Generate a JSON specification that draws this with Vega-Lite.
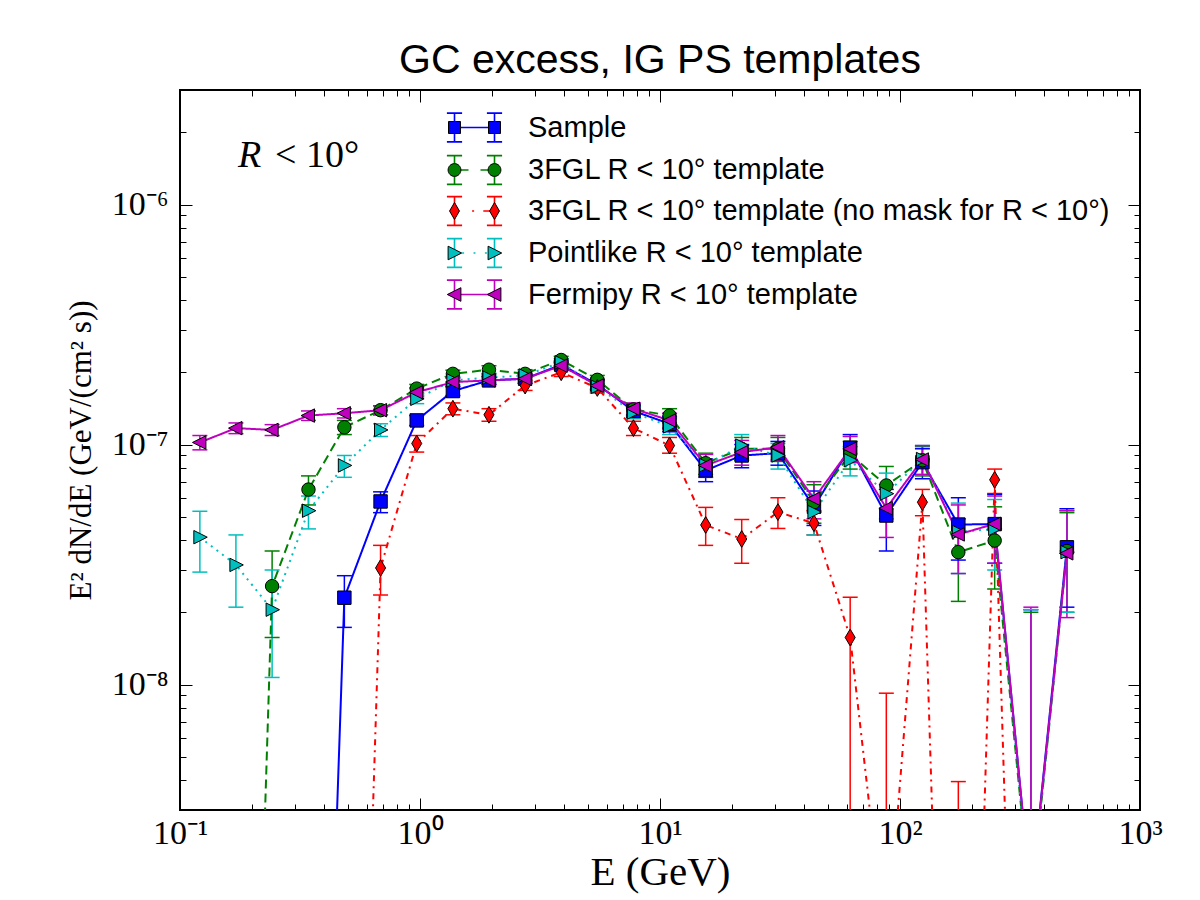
{
  "$schema": "https://vega.github.io/schema/vega-lite/v6.json",
  "width": 960,
  "height": 720,
  "autosize": {"type": "none"},
  "padding": {"left": 180, "top": 90, "right": 60, "bottom": 90},
  "background": "white",
  "title": {"text": "GC excess, IG PS templates", "font": "Liberation Sans", "fontSize": 41, "fontWeight": "normal", "color": "black", "frame": "group", "anchor": "middle", "offset": 8},
  "config": {
    "view": {"stroke": "black", "strokeWidth": 2},
    "axis": {"grid": false, "domain": false, "tickColor": "black", "tickWidth": 1, "labelColor": "black", "titleColor": "black", "labelFlush": false, "labelOverlap": false, "labelBound": false},
    "legend": {"orient": "none", "legendX": 280, "title": null, "padding": 0, "labelFont": "Liberation Sans", "labelFontSize": 29, "labelColor": "black", "labelLimit": 900, "symbolSize": 256, "labelOffset": 39, "symbolOpacity": 1}
  },
  "data": {"values": [
    {"s": "Sample", "E": 0.343, "y": 1e-12, "lo": null, "hi": null},
    {"s": "Sample", "E": 0.484, "y": 2.30e-8, "lo": 1.73e-8, "hi": 2.84e-8},
    {"s": "Sample", "E": 0.685, "y": 5.79e-8, "lo": 5.2e-8, "hi": 6.35e-8},
    {"s": "Sample", "E": 0.969, "y": 1.26e-7, "lo": 1.2e-7, "hi": 1.32e-7},
    {"s": "Sample", "E": 1.371, "y": 1.67e-7, "lo": 1.6e-7, "hi": 1.74e-7},
    {"s": "Sample", "E": 1.938, "y": 1.85e-7, "lo": 1.78e-7, "hi": 1.92e-7},
    {"s": "Sample", "E": 2.741, "y": 1.88e-7, "lo": 1.8e-7, "hi": 1.96e-7},
    {"s": "Sample", "E": 3.875, "y": 2.15e-7, "lo": 2.07e-7, "hi": 2.23e-7},
    {"s": "Sample", "E": 5.48, "y": 1.78e-7, "lo": 1.70e-7, "hi": 1.86e-7},
    {"s": "Sample", "E": 7.75, "y": 1.38e-7, "lo": 1.3e-7, "hi": 1.46e-7},
    {"s": "Sample", "E": 10.96, "y": 1.22e-7, "lo": 1.13e-7, "hi": 1.31e-7},
    {"s": "Sample", "E": 15.5, "y": 7.8e-8, "lo": 7.0e-8, "hi": 8.7e-8},
    {"s": "Sample", "E": 21.9, "y": 9.0e-8, "lo": 8.0e-8, "hi": 1.0e-7},
    {"s": "Sample", "E": 31.0, "y": 9.2e-8, "lo": 8.2e-8, "hi": 1.03e-7},
    {"s": "Sample", "E": 43.8, "y": 5.5e-8, "lo": 4.6e-8, "hi": 6.4e-8},
    {"s": "Sample", "E": 62.0, "y": 9.7e-8, "lo": 8.6e-8, "hi": 1.1e-7},
    {"s": "Sample", "E": 87.7, "y": 5.06e-8, "lo": 3.6e-8, "hi": 6.5e-8},
    {"s": "Sample", "E": 124, "y": 8.44e-8, "lo": 7.2e-8, "hi": 9.6e-8},
    {"s": "Sample", "E": 175, "y": 4.64e-8, "lo": 3.3e-8, "hi": 6.0e-8},
    {"s": "Sample", "E": 248, "y": 4.66e-8, "lo": 3.2e-8, "hi": 6.2e-8},
    {"s": "Sample", "E": 351, "y": 1.3e-9, "lo": 1e-12, "hi": 2.05e-8},
    {"s": "Sample", "E": 496, "y": 3.73e-8, "lo": 2.1e-8, "hi": 5.4e-8},

    {"s": "3FGL R < 10° template", "E": 0.171, "y": 4e-13, "lo": null, "hi": null},
    {"s": "3FGL R < 10° template", "E": 0.242, "y": 2.57e-8, "lo": 1.57e-8, "hi": 3.6e-8},
    {"s": "3FGL R < 10° template", "E": 0.343, "y": 6.49e-8, "lo": 5.6e-8, "hi": 7.4e-8},
    {"s": "3FGL R < 10° template", "E": 0.484, "y": 1.18e-7, "lo": 1.1e-7, "hi": 1.26e-7},
    {"s": "3FGL R < 10° template", "E": 0.685, "y": 1.39e-7, "lo": 1.33e-7, "hi": 1.45e-7},
    {"s": "3FGL R < 10° template", "E": 0.969, "y": 1.71e-7, "lo": 1.64e-7, "hi": 1.78e-7},
    {"s": "3FGL R < 10° template", "E": 1.371, "y": 1.97e-7, "lo": 1.9e-7, "hi": 2.04e-7},
    {"s": "3FGL R < 10° template", "E": 1.938, "y": 2.05e-7, "lo": 1.97e-7, "hi": 2.13e-7},
    {"s": "3FGL R < 10° template", "E": 2.741, "y": 1.97e-7, "lo": 1.9e-7, "hi": 2.05e-7},
    {"s": "3FGL R < 10° template", "E": 3.875, "y": 2.25e-7, "lo": 2.17e-7, "hi": 2.33e-7},
    {"s": "3FGL R < 10° template", "E": 5.48, "y": 1.86e-7, "lo": 1.78e-7, "hi": 1.94e-7},
    {"s": "3FGL R < 10° template", "E": 7.75, "y": 1.40e-7, "lo": 1.32e-7, "hi": 1.48e-7},
    {"s": "3FGL R < 10° template", "E": 10.96, "y": 1.32e-7, "lo": 1.23e-7, "hi": 1.41e-7},
    {"s": "3FGL R < 10° template", "E": 15.5, "y": 8.36e-8, "lo": 7.5e-8, "hi": 9.2e-8},
    {"s": "3FGL R < 10° template", "E": 21.9, "y": 9.6e-8, "lo": 8.6e-8, "hi": 1.07e-7},
    {"s": "3FGL R < 10° template", "E": 31.0, "y": 9.6e-8, "lo": 8.5e-8, "hi": 1.07e-7},
    {"s": "3FGL R < 10° template", "E": 43.8, "y": 5.75e-8, "lo": 4.7e-8, "hi": 6.8e-8},
    {"s": "3FGL R < 10° template", "E": 62.0, "y": 9.1e-8, "lo": 7.9e-8, "hi": 1.03e-7},
    {"s": "3FGL R < 10° template", "E": 87.7, "y": 6.75e-8, "lo": 5.4e-8, "hi": 8.1e-8},
    {"s": "3FGL R < 10° template", "E": 124, "y": 8.6e-8, "lo": 7.4e-8, "hi": 9.8e-8},
    {"s": "3FGL R < 10° template", "E": 175, "y": 3.56e-8, "lo": 2.22e-8, "hi": 4.9e-8},
    {"s": "3FGL R < 10° template", "E": 248, "y": 3.98e-8, "lo": 2.5e-8, "hi": 5.5e-8},
    {"s": "3FGL R < 10° template", "E": 351, "y": 1.2e-9, "lo": 1e-12, "hi": 2.0e-8},
    {"s": "3FGL R < 10° template", "E": 496, "y": 3.6e-8, "lo": 2.0e-8, "hi": 5.2e-8},

    {"s": "3FGL R < 10° template (no mask for R < 10°)", "E": 0.484, "y": 5e-13, "lo": null, "hi": null},
    {"s": "3FGL R < 10° template (no mask for R < 10°)", "E": 0.685, "y": 3.06e-8, "lo": 2.36e-8, "hi": 3.8e-8},
    {"s": "3FGL R < 10° template (no mask for R < 10°)", "E": 0.969, "y": 1.01e-7, "lo": 9.3e-8, "hi": 1.09e-7},
    {"s": "3FGL R < 10° template (no mask for R < 10°)", "E": 1.371, "y": 1.41e-7, "lo": 1.33e-7, "hi": 1.49e-7},
    {"s": "3FGL R < 10° template (no mask for R < 10°)", "E": 1.938, "y": 1.33e-7, "lo": 1.25e-7, "hi": 1.41e-7},
    {"s": "3FGL R < 10° template (no mask for R < 10°)", "E": 2.741, "y": 1.76e-7, "lo": 1.68e-7, "hi": 1.84e-7},
    {"s": "3FGL R < 10° template (no mask for R < 10°)", "E": 3.875, "y": 2.0e-7, "lo": 1.92e-7, "hi": 2.08e-7},
    {"s": "3FGL R < 10° template (no mask for R < 10°)", "E": 5.48, "y": 1.72e-7, "lo": 1.64e-7, "hi": 1.8e-7},
    {"s": "3FGL R < 10° template (no mask for R < 10°)", "E": 7.75, "y": 1.17e-7, "lo": 1.09e-7, "hi": 1.25e-7},
    {"s": "3FGL R < 10° template (no mask for R < 10°)", "E": 10.96, "y": 9.9e-8, "lo": 9.2e-8, "hi": 1.07e-7},
    {"s": "3FGL R < 10° template (no mask for R < 10°)", "E": 15.5, "y": 4.62e-8, "lo": 3.8e-8, "hi": 5.47e-8},
    {"s": "3FGL R < 10° template (no mask for R < 10°)", "E": 21.9, "y": 4.04e-8, "lo": 3.2e-8, "hi": 4.87e-8},
    {"s": "3FGL R < 10° template (no mask for R < 10°)", "E": 31.0, "y": 5.23e-8, "lo": 4.47e-8, "hi": 6.0e-8},
    {"s": "3FGL R < 10° template (no mask for R < 10°)", "E": 43.8, "y": 4.7e-8, "lo": 4.2e-8, "hi": 5.3e-8},
    {"s": "3FGL R < 10° template (no mask for R < 10°)", "E": 62.0, "y": 1.57e-8, "lo": 1e-12, "hi": 2.31e-8},
    {"s": "3FGL R < 10° template (no mask for R < 10°)", "E": 87.7, "y": 7.5e-10, "lo": 1e-12, "hi": 9.2e-9},
    {"s": "3FGL R < 10° template (no mask for R < 10°)", "E": 124, "y": 5.75e-8, "lo": 5.05e-8, "hi": 6.5e-8},
    {"s": "3FGL R < 10° template (no mask for R < 10°)", "E": 175, "y": 1e-12, "lo": 1e-12, "hi": 3.94e-9},
    {"s": "3FGL R < 10° template (no mask for R < 10°)", "E": 248, "y": 7.13e-8, "lo": 6.25e-8, "hi": 7.9e-8},
    {"s": "3FGL R < 10° template (no mask for R < 10°)", "E": 351, "y": 1e-12, "lo": null, "hi": null},

    {"s": "Pointlike R < 10° template", "E": 0.121, "y": 4.11e-8, "lo": 2.94e-8, "hi": 5.27e-8},
    {"s": "Pointlike R < 10° template", "E": 0.171, "y": 3.15e-8, "lo": 2.1e-8, "hi": 4.2e-8},
    {"s": "Pointlike R < 10° template", "E": 0.242, "y": 2.05e-8, "lo": 1.07e-8, "hi": 3.0e-8},
    {"s": "Pointlike R < 10° template", "E": 0.343, "y": 5.3e-8, "lo": 4.45e-8, "hi": 6.1e-8},
    {"s": "Pointlike R < 10° template", "E": 0.484, "y": 8.18e-8, "lo": 7.3e-8, "hi": 9.0e-8},
    {"s": "Pointlike R < 10° template", "E": 0.685, "y": 1.15e-7, "lo": 1.08e-7, "hi": 1.22e-7},
    {"s": "Pointlike R < 10° template", "E": 0.969, "y": 1.55e-7, "lo": 1.48e-7, "hi": 1.62e-7},
    {"s": "Pointlike R < 10° template", "E": 1.371, "y": 1.85e-7, "lo": 1.78e-7, "hi": 1.92e-7},
    {"s": "Pointlike R < 10° template", "E": 1.938, "y": 1.90e-7, "lo": 1.82e-7, "hi": 1.98e-7},
    {"s": "Pointlike R < 10° template", "E": 2.741, "y": 1.94e-7, "lo": 1.86e-7, "hi": 2.02e-7},
    {"s": "Pointlike R < 10° template", "E": 3.875, "y": 2.20e-7, "lo": 2.12e-7, "hi": 2.28e-7},
    {"s": "Pointlike R < 10° template", "E": 5.48, "y": 1.74e-7, "lo": 1.66e-7, "hi": 1.82e-7},
    {"s": "Pointlike R < 10° template", "E": 7.75, "y": 1.36e-7, "lo": 1.28e-7, "hi": 1.44e-7},
    {"s": "Pointlike R < 10° template", "E": 10.96, "y": 1.19e-7, "lo": 1.1e-7, "hi": 1.28e-7},
    {"s": "Pointlike R < 10° template", "E": 15.5, "y": 8.2e-8, "lo": 7.3e-8, "hi": 9.1e-8},
    {"s": "Pointlike R < 10° template", "E": 21.9, "y": 9.9e-8, "lo": 8.8e-8, "hi": 1.1e-7},
    {"s": "Pointlike R < 10° template", "E": 31.0, "y": 9.0e-8, "lo": 7.9e-8, "hi": 1.01e-7},
    {"s": "Pointlike R < 10° template", "E": 43.8, "y": 5.23e-8, "lo": 4.2e-8, "hi": 6.2e-8},
    {"s": "Pointlike R < 10° template", "E": 62.0, "y": 8.6e-8, "lo": 7.4e-8, "hi": 9.8e-8},
    {"s": "Pointlike R < 10° template", "E": 87.7, "y": 6.24e-8, "lo": 4.9e-8, "hi": 7.6e-8},
    {"s": "Pointlike R < 10° template", "E": 124, "y": 8.7e-8, "lo": 7.5e-8, "hi": 9.9e-8},
    {"s": "Pointlike R < 10° template", "E": 175, "y": 4.32e-8, "lo": 2.9e-8, "hi": 5.7e-8},
    {"s": "Pointlike R < 10° template", "E": 248, "y": 4.45e-8, "lo": 3.0e-8, "hi": 5.9e-8},
    {"s": "Pointlike R < 10° template", "E": 351, "y": 1.2e-9, "lo": 1e-12, "hi": 2.05e-8},
    {"s": "Pointlike R < 10° template", "E": 496, "y": 3.56e-8, "lo": 2.0e-8, "hi": 5.3e-8},

    {"s": "Fermipy R < 10° template", "E": 0.121, "y": 1.02e-7, "lo": 9.5e-8, "hi": 1.09e-7},
    {"s": "Fermipy R < 10° template", "E": 0.171, "y": 1.17e-7, "lo": 1.11e-7, "hi": 1.23e-7},
    {"s": "Fermipy R < 10° template", "E": 0.242, "y": 1.15e-7, "lo": 1.09e-7, "hi": 1.21e-7},
    {"s": "Fermipy R < 10° template", "E": 0.343, "y": 1.32e-7, "lo": 1.26e-7, "hi": 1.38e-7},
    {"s": "Fermipy R < 10° template", "E": 0.484, "y": 1.35e-7, "lo": 1.29e-7, "hi": 1.41e-7},
    {"s": "Fermipy R < 10° template", "E": 0.685, "y": 1.39e-7, "lo": 1.33e-7, "hi": 1.45e-7},
    {"s": "Fermipy R < 10° template", "E": 0.969, "y": 1.65e-7, "lo": 1.58e-7, "hi": 1.72e-7},
    {"s": "Fermipy R < 10° template", "E": 1.371, "y": 1.82e-7, "lo": 1.75e-7, "hi": 1.89e-7},
    {"s": "Fermipy R < 10° template", "E": 1.938, "y": 1.85e-7, "lo": 1.78e-7, "hi": 1.92e-7},
    {"s": "Fermipy R < 10° template", "E": 2.741, "y": 1.88e-7, "lo": 1.8e-7, "hi": 1.96e-7},
    {"s": "Fermipy R < 10° template", "E": 3.875, "y": 2.13e-7, "lo": 2.05e-7, "hi": 2.21e-7},
    {"s": "Fermipy R < 10° template", "E": 5.48, "y": 1.76e-7, "lo": 1.68e-7, "hi": 1.84e-7},
    {"s": "Fermipy R < 10° template", "E": 7.75, "y": 1.41e-7, "lo": 1.33e-7, "hi": 1.49e-7},
    {"s": "Fermipy R < 10° template", "E": 10.96, "y": 1.26e-7, "lo": 1.17e-7, "hi": 1.35e-7},
    {"s": "Fermipy R < 10° template", "E": 15.5, "y": 8.18e-8, "lo": 7.3e-8, "hi": 9.1e-8},
    {"s": "Fermipy R < 10° template", "E": 21.9, "y": 9.29e-8, "lo": 8.2e-8, "hi": 1.04e-7},
    {"s": "Fermipy R < 10° template", "E": 31.0, "y": 9.74e-8, "lo": 8.6e-8, "hi": 1.09e-7},
    {"s": "Fermipy R < 10° template", "E": 43.8, "y": 5.94e-8, "lo": 4.9e-8, "hi": 7.0e-8},
    {"s": "Fermipy R < 10° template", "E": 62.0, "y": 9.59e-8, "lo": 8.4e-8, "hi": 1.08e-7},
    {"s": "Fermipy R < 10° template", "E": 87.7, "y": 5.43e-8, "lo": 4.1e-8, "hi": 6.8e-8},
    {"s": "Fermipy R < 10° template", "E": 124, "y": 8.66e-8, "lo": 7.5e-8, "hi": 9.9e-8},
    {"s": "Fermipy R < 10° template", "E": 175, "y": 4.22e-8, "lo": 2.9e-8, "hi": 5.6e-8},
    {"s": "Fermipy R < 10° template", "E": 248, "y": 4.67e-8, "lo": 3.2e-8, "hi": 6.1e-8},
    {"s": "Fermipy R < 10° template", "E": 351, "y": 1.3e-9, "lo": 1e-12, "hi": 2.1e-8},
    {"s": "Fermipy R < 10° template", "E": 496, "y": 3.52e-8, "lo": 1.9e-8, "hi": 5.3e-8}
  ]},
  "resolve": {
    "axis": {"x": "independent", "y": "independent"},
    "scale": {"shape": "independent", "fill": "independent", "stroke": "independent"}
  },
  "layer": [
    {
      "transform": [{"filter": "datum.hi != null"}],
      "mark": {"type": "rule", "strokeWidth": 1.5, "clip": true},
      "encoding": {
        "x": {"field": "E", "type": "quantitative", "scale": {"type": "log", "domain": [0.1, 1000], "nice": false},
          "axis": {"orient": "bottom", "values": [0.1, 1, 10, 100, 1000], "ticks": false, "tickSize": 0, "labelPadding": 6,
            "labelExpr": "datum.value < 0.5 ? '10⁻¹' : datum.value < 5 ? '10⁰' : datum.value < 50 ? '10¹' : datum.value < 500 ? '10²' : '10³'",
            "labelFont": "Liberation Serif", "labelFontSize": 34, "title": "E (GeV)", "titleFont": "Liberation Serif", "titleFontSize": 41, "titleFontWeight": "normal", "titlePadding": 2}},
        "y": {"field": "lo", "type": "quantitative", "scale": {"type": "log", "domain": [3e-9, 3e-6], "nice": false},
          "axis": {"orient": "left", "values": [1e-8, 1e-7, 1e-6], "ticks": false, "tickSize": 0, "labelPadding": 12,
            "labelExpr": "datum.value < 5e-8 ? '10⁻⁸' : datum.value < 5e-7 ? '10⁻⁷' : '10⁻⁶'",
            "labelFont": "Liberation Serif", "labelFontSize": 34, "title": "E² dN/dE  (GeV/(cm² s))", "titleFont": "Liberation Serif", "titleFontSize": 31, "titleFontWeight": "normal", "titlePadding": 14}},
        "y2": {"field": "hi"},
        "stroke": {"field": "s", "type": "nominal",
          "sort": ["Sample", "3FGL R < 10° template", "3FGL R < 10° template (no mask for R < 10°)", "Pointlike R < 10° template", "Fermipy R < 10° template"],
          "scale": {"range": ["#0000ff", "#008000", "#ff0000", "#00bfbf", "#bf00bf"]},
          "legend": null}
      }
    },
    {
      "transform": [{"filter": "datum.hi != null"}],
      "mark": {"type": "point", "shape": "stroke", "size": 225, "strokeWidth": 1.5, "filled": false, "opacity": 1, "clip": true},
      "encoding": {
        "x": {"field": "E", "type": "quantitative", "axis": {"orient": "bottom", "values": [0.1, 1, 10, 100, 1000], "labels": false, "tickSize": -12, "title": null}},
        "y": {"field": "lo", "type": "quantitative", "axis": {"orient": "left", "values": [1e-8, 1e-7, 1e-6], "labels": false, "tickSize": -12, "title": null}},
        "stroke": {"field": "s", "type": "nominal", "sort": ["Sample", "3FGL R < 10° template", "3FGL R < 10° template (no mask for R < 10°)", "Pointlike R < 10° template", "Fermipy R < 10° template"],
          "scale": {"range": ["#0000ff", "#008000", "#ff0000", "#00bfbf", "#bf00bf"]}, "legend": null}
      }
    },
    {
      "transform": [{"filter": "datum.hi != null"}],
      "mark": {"type": "point", "shape": "stroke", "size": 225, "strokeWidth": 1.5, "filled": false, "opacity": 1, "clip": true},
      "encoding": {
        "x": {"field": "E", "type": "quantitative", "axis": {"orient": "bottom", "values": [0.2, 0.3, 0.4, 0.5, 0.6, 0.7, 0.8, 0.9, 2, 3, 4, 5, 6, 7, 8, 9, 20, 30, 40, 50, 60, 70, 80, 90, 200, 300, 400, 500, 600, 700, 800, 900], "labels": false, "tickSize": -6, "title": null}},
        "y": {"field": "hi", "type": "quantitative", "axis": {"orient": "left", "values": [3e-9, 4e-9, 5e-9, 6e-9, 7e-9, 8e-9, 9e-9, 2e-8, 3e-8, 4e-8, 5e-8, 6e-8, 7e-8, 8e-8, 9e-8, 2e-7, 3e-7, 4e-7, 5e-7, 6e-7, 7e-7, 8e-7, 9e-7, 2e-6], "labels": false, "tickSize": -6, "title": null}},
        "stroke": {"field": "s", "type": "nominal", "sort": ["Sample", "3FGL R < 10° template", "3FGL R < 10° template (no mask for R < 10°)", "Pointlike R < 10° template", "Fermipy R < 10° template"],
          "scale": {"range": ["#0000ff", "#008000", "#ff0000", "#00bfbf", "#bf00bf"]}, "legend": null}
      }
    },
    {
      "mark": {"type": "line", "strokeWidth": 2, "clip": true},
      "encoding": {
        "x": {"field": "E", "type": "quantitative", "axis": {"orient": "top", "values": [0.1, 1, 10, 100, 1000], "labels": false, "tickSize": -12, "title": null}},
        "y": {"field": "y", "type": "quantitative", "axis": {"orient": "right", "values": [1e-8, 1e-7, 1e-6], "labels": false, "tickSize": -12, "title": null}},
        "color": {"field": "s", "type": "nominal",
          "sort": ["Sample", "3FGL R < 10° template", "3FGL R < 10° template (no mask for R < 10°)", "Pointlike R < 10° template", "Fermipy R < 10° template"],
          "scale": {"range": ["#0000ff", "#008000", "#ff0000", "#00bfbf", "#bf00bf"]},
          "legend": null},
        "strokeDash": {"field": "s", "type": "nominal",
          "sort": ["Sample", "3FGL R < 10° template", "3FGL R < 10° template (no mask for R < 10°)", "Pointlike R < 10° template", "Fermipy R < 10° template"],
          "scale": {"range": [[1, 0], [9, 5], [6, 5, 2, 5], [2, 5], [1, 0]]},
          "legend": null}
      }
    },
    {
      "transform": [{"filter": "datum.y >= 3e-9"}],
      "mark": {"type": "point", "filled": true, "stroke": "black", "strokeWidth": 1, "size": 180, "opacity": 1, "clip": true},
      "encoding": {
        "x": {"field": "E", "type": "quantitative", "axis": {"orient": "top", "values": [0.2, 0.3, 0.4, 0.5, 0.6, 0.7, 0.8, 0.9, 2, 3, 4, 5, 6, 7, 8, 9, 20, 30, 40, 50, 60, 70, 80, 90, 200, 300, 400, 500, 600, 700, 800, 900], "labels": false, "tickSize": -6, "title": null}},
        "y": {"field": "y", "type": "quantitative", "axis": {"orient": "right", "values": [3e-9, 4e-9, 5e-9, 6e-9, 7e-9, 8e-9, 9e-9, 2e-8, 3e-8, 4e-8, 5e-8, 6e-8, 7e-8, 8e-8, 9e-8, 2e-7, 3e-7, 4e-7, 5e-7, 6e-7, 7e-7, 8e-7, 9e-7, 2e-6], "labels": false, "tickSize": -6, "title": null}},
        "fill": {"field": "s", "type": "nominal",
          "sort": ["Sample", "3FGL R < 10° template", "3FGL R < 10° template (no mask for R < 10°)", "Pointlike R < 10° template", "Fermipy R < 10° template"],
          "scale": {"range": ["#0000ff", "#008000", "#ff0000", "#00bfbf", "#bf00bf"]},
          "legend": null},
        "shape": {"field": "s", "type": "nominal",
          "sort": ["Sample", "3FGL R < 10° template", "3FGL R < 10° template (no mask for R < 10°)", "Pointlike R < 10° template", "Fermipy R < 10° template"],
          "scale": {"range": ["square", "circle", "M0,-1.25L0.75,0L0,1.25L-0.75,0Z", "M-0.9,-1L1.1,0L-0.9,1Z", "M0.9,-1L-1.1,0L0.9,1Z"]},
          "legend": null}
      }
    },

    {
      "transform": [{"filter": {"field": "s", "equal": "Sample"}}],
      "mark": {"type": "point", "filled": false, "opacity": 0, "size": 10, "clip": true},
      "encoding": {
        "x": {"field": "E", "type": "quantitative", "axis": null},
        "y": {"field": "y", "type": "quantitative", "axis": null},
        "stroke": {"field": "s", "type": "nominal", "scale": {"range": ["#0000ff"]},
          "legend": {"legendY": 23, "labelExpr": "''", "zindex": 1, "symbolStrokeWidth": 1.6, "symbolFillColor": "transparent",
            "symbolType": "M-2.5,-1.8L-2.5,1.8M-3.45,-1.8L-1.55,-1.8M-3.45,1.8L-1.55,1.8M2.5,-1.8L2.5,1.8M1.55,-1.8L3.45,-1.8M1.55,1.8L3.45,1.8M-2.5,0L2.5,0"}}
      }
    },
    {
      "transform": [{"filter": {"field": "s", "equal": "3FGL R < 10° template"}}],
      "mark": {"type": "point", "filled": false, "opacity": 0, "size": 10, "clip": true},
      "encoding": {
        "x": {"field": "E", "type": "quantitative", "axis": null},
        "y": {"field": "y", "type": "quantitative", "axis": null},
        "stroke": {"field": "s", "type": "nominal", "scale": {"range": ["#008000"]},
          "legend": {"legendY": 65.5, "labelExpr": "''", "zindex": 1, "symbolStrokeWidth": 1.6, "symbolFillColor": "transparent",
            "symbolType": "M-2.5,-1.8L-2.5,1.8M-3.45,-1.8L-1.55,-1.8M-3.45,1.8L-1.55,1.8M2.5,-1.8L2.5,1.8M1.55,-1.8L3.45,-1.8M1.55,1.8L3.45,1.8M-2.5,0L-0.75,0M0.75,0L2.5,0"}}
      }
    },
    {
      "transform": [{"filter": {"field": "s", "equal": "3FGL R < 10° template (no mask for R < 10°)"}}],
      "mark": {"type": "point", "filled": false, "opacity": 0, "size": 10, "clip": true},
      "encoding": {
        "x": {"field": "E", "type": "quantitative", "axis": null},
        "y": {"field": "y", "type": "quantitative", "axis": null},
        "stroke": {"field": "s", "type": "nominal", "scale": {"range": ["#ff0000"]},
          "legend": {"legendY": 106.5, "labelExpr": "''", "zindex": 1, "symbolStrokeWidth": 1.6, "symbolFillColor": "transparent",
            "symbolType": "M-2.5,-1.8L-2.5,1.8M-3.45,-1.8L-1.55,-1.8M-3.45,1.8L-1.55,1.8M2.5,-1.8L2.5,1.8M1.55,-1.8L3.45,-1.8M1.55,1.8L3.45,1.8M-0.3,0L-0.05,0M1.1,0L2.5,0"}}
      }
    },
    {
      "transform": [{"filter": {"field": "s", "equal": "Pointlike R < 10° template"}}],
      "mark": {"type": "point", "filled": false, "opacity": 0, "size": 10, "clip": true},
      "encoding": {
        "x": {"field": "E", "type": "quantitative", "axis": null},
        "y": {"field": "y", "type": "quantitative", "axis": null},
        "stroke": {"field": "s", "type": "nominal", "scale": {"range": ["#00bfbf"]},
          "legend": {"legendY": 148.5, "labelExpr": "''", "zindex": 1, "symbolStrokeWidth": 1.6, "symbolFillColor": "transparent",
            "symbolType": "M-2.5,-1.8L-2.5,1.8M-3.45,-1.8L-1.55,-1.8M-3.45,1.8L-1.55,1.8M2.5,-1.8L2.5,1.8M1.55,-1.8L3.45,-1.8M1.55,1.8L3.45,1.8M-1.55,0L-1.3,0M-0.12,0L0.12,0M1.3,0L1.55,0"}}
      }
    },
    {
      "transform": [{"filter": {"field": "s", "equal": "Fermipy R < 10° template"}}],
      "mark": {"type": "point", "filled": false, "opacity": 0, "size": 10, "clip": true},
      "encoding": {
        "x": {"field": "E", "type": "quantitative", "axis": null},
        "y": {"field": "y", "type": "quantitative", "axis": null},
        "stroke": {"field": "s", "type": "nominal", "scale": {"range": ["#bf00bf"]},
          "legend": {"legendY": 190, "labelExpr": "''", "zindex": 1, "symbolStrokeWidth": 1.6, "symbolFillColor": "transparent",
            "symbolType": "M-2.5,-1.8L-2.5,1.8M-3.45,-1.8L-1.55,-1.8M-3.45,1.8L-1.55,1.8M2.5,-1.8L2.5,1.8M1.55,-1.8L3.45,-1.8M1.55,1.8L3.45,1.8M-2.5,0L2.5,0"}}
      }
    },

    {
      "transform": [{"filter": {"field": "s", "equal": "Sample"}}],
      "mark": {"type": "point", "filled": true, "opacity": 0, "size": 10, "clip": true},
      "encoding": {
        "x": {"field": "E", "type": "quantitative", "axis": null},
        "y": {"field": "y", "type": "quantitative", "axis": null},
        "fill": {"field": "s", "type": "nominal", "scale": {"range": ["#0000ff"]},
          "legend": {"legendY": 23, "zindex": 2, "symbolStrokeColor": "black", "symbolStrokeWidth": 1,
            "symbolType": "M-3.25,-0.75h1.5v1.5h-1.5Z M1.75,-0.75h1.5v1.5h-1.5Z"}}
      }
    },
    {
      "transform": [{"filter": {"field": "s", "equal": "3FGL R < 10° template"}}],
      "mark": {"type": "point", "filled": true, "opacity": 0, "size": 10, "clip": true},
      "encoding": {
        "x": {"field": "E", "type": "quantitative", "axis": null},
        "y": {"field": "y", "type": "quantitative", "axis": null},
        "fill": {"field": "s", "type": "nominal", "scale": {"range": ["#008000"]},
          "legend": {"legendY": 65.5, "zindex": 2, "symbolStrokeColor": "black", "symbolStrokeWidth": 1,
            "symbolType": "M-3.3,0a0.8,0.8 0 1,0 1.6,0a0.8,0.8 0 1,0 -1.6,0Z M1.7,0a0.8,0.8 0 1,0 1.6,0a0.8,0.8 0 1,0 -1.6,0Z"}}
      }
    },
    {
      "transform": [{"filter": {"field": "s", "equal": "3FGL R < 10° template (no mask for R < 10°)"}}],
      "mark": {"type": "point", "filled": true, "opacity": 0, "size": 10, "clip": true},
      "encoding": {
        "x": {"field": "E", "type": "quantitative", "axis": null},
        "y": {"field": "y", "type": "quantitative", "axis": null},
        "fill": {"field": "s", "type": "nominal", "scale": {"range": ["#ff0000"]},
          "legend": {"legendY": 106.5, "zindex": 2, "symbolStrokeColor": "black", "symbolStrokeWidth": 1,
            "symbolType": "M-2.5,-1.06L-1.88,0L-2.5,1.06L-3.12,0Z M2.5,-1.06L3.12,0L2.5,1.06L1.88,0Z"}}
      }
    },
    {
      "transform": [{"filter": {"field": "s", "equal": "Pointlike R < 10° template"}}],
      "mark": {"type": "point", "filled": true, "opacity": 0, "size": 10, "clip": true},
      "encoding": {
        "x": {"field": "E", "type": "quantitative", "axis": null},
        "y": {"field": "y", "type": "quantitative", "axis": null},
        "fill": {"field": "s", "type": "nominal", "scale": {"range": ["#00bfbf"]},
          "legend": {"legendY": 148.5, "zindex": 2, "symbolStrokeColor": "black", "symbolStrokeWidth": 1,
            "symbolType": "M-3.3,-0.85L-1.6,0L-3.3,0.85Z M1.7,-0.85L3.4,0L1.7,0.85Z"}}
      }
    },
    {
      "transform": [{"filter": {"field": "s", "equal": "Fermipy R < 10° template"}}],
      "mark": {"type": "point", "filled": true, "opacity": 0, "size": 10, "clip": true},
      "encoding": {
        "x": {"field": "E", "type": "quantitative", "axis": null},
        "y": {"field": "y", "type": "quantitative", "axis": null},
        "fill": {"field": "s", "type": "nominal", "scale": {"range": ["#bf00bf"]},
          "legend": {"legendY": 190, "zindex": 2, "symbolStrokeColor": "black", "symbolStrokeWidth": 1,
            "symbolType": "M-1.7,-0.85L-3.4,0L-1.7,0.85Z M3.3,-0.85L1.6,0L3.3,0.85Z"}}
      }
    },

    {
      "data": {"values": [{}]},
      "mark": {"type": "text", "text": "R", "font": "Liberation Serif", "fontStyle": "italic", "fontSize": 38, "align": "left", "baseline": "middle", "color": "black"},
      "encoding": {
        "x": {"datum": 0.1745, "type": "quantitative", "axis": null},
        "y": {"datum": 1.6e-6, "type": "quantitative", "axis": null}
      }
    },
    {
      "data": {"values": [{}]},
      "mark": {"type": "text", "text": "< 10°", "font": "Liberation Serif", "fontSize": 38, "align": "left", "baseline": "middle", "color": "black"},
      "encoding": {
        "x": {"datum": 0.249, "type": "quantitative", "axis": null},
        "y": {"datum": 1.6e-6, "type": "quantitative", "axis": null}
      }
    }
  ]
}
